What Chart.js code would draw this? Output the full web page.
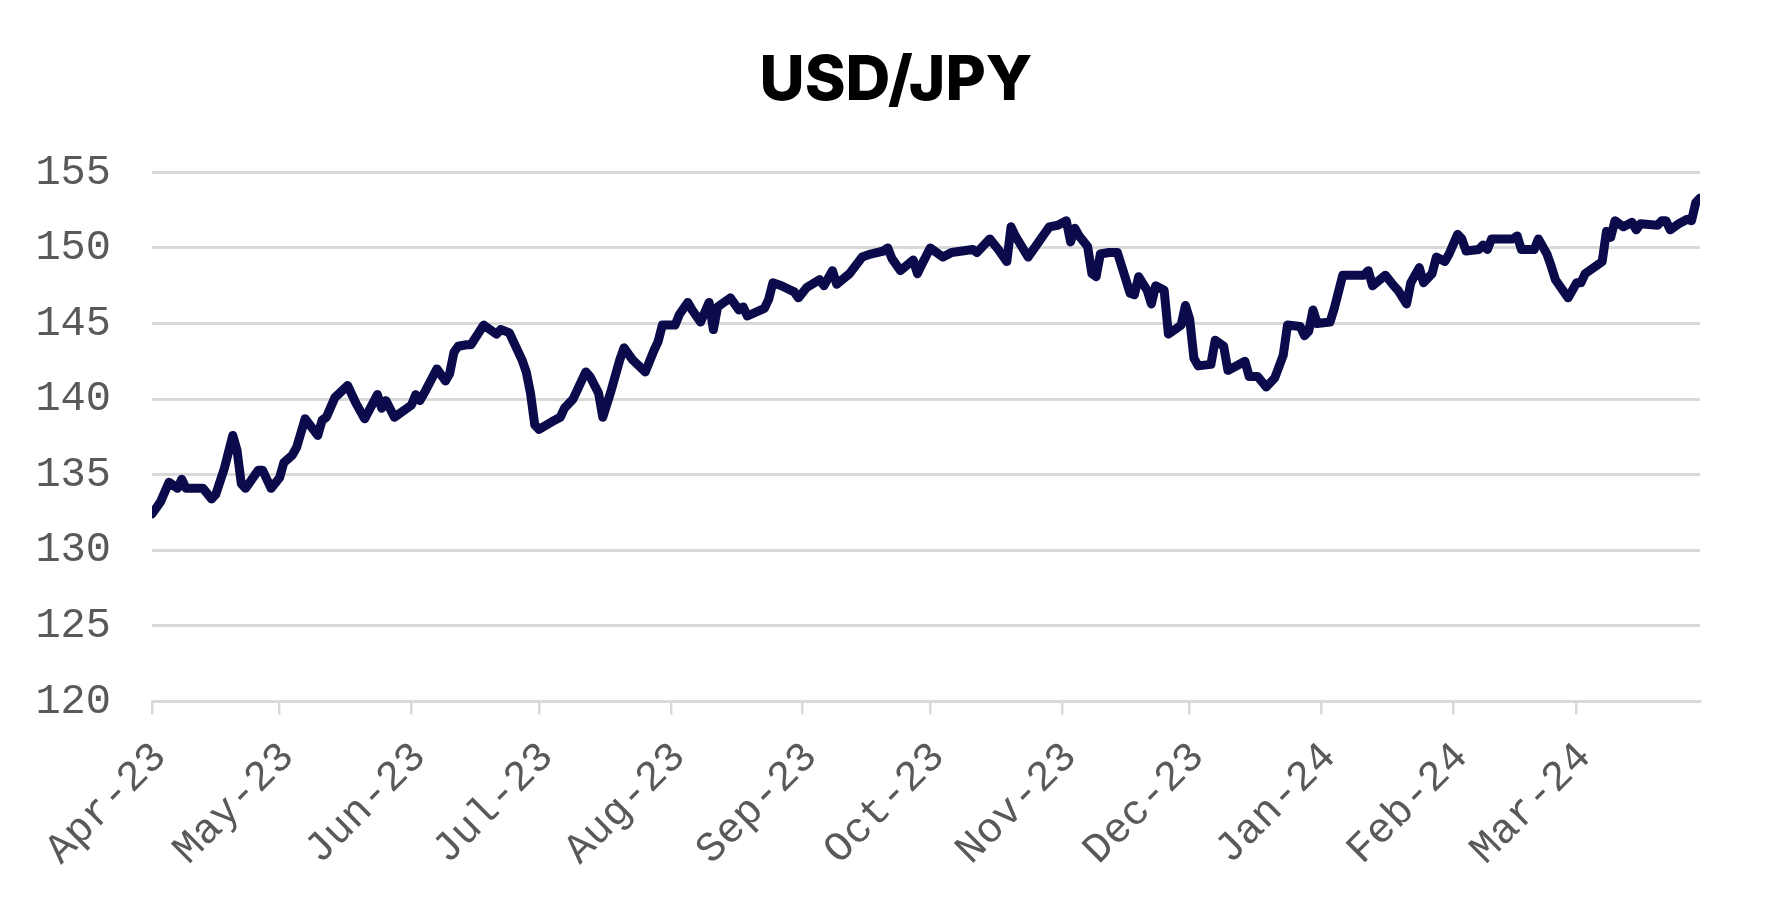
<!DOCTYPE html>
<html>
<head>
<meta charset="utf-8">
<script src="https://cdn.jsdelivr.net/npm/chart.js@4.4.1/dist/chart.umd.min.js"></script>
<style>
  html, body { margin: 0; padding: 0; background: #ffffff; }
  #wrap { width: 1792px; height: 907px; }
</style>
</head>
<body>
<div id="wrap"><canvas id="c" width="1792" height="907"></canvas></div>
<script>
const chartTitle = 'USD/JPY';
const startDate = '2023-04-01';
const endDate = '2024-03-30';

const dates = [
  '2023-04-01','2023-04-03','2023-04-05','2023-04-07','2023-04-08','2023-04-09','2023-04-11','2023-04-13','2023-04-15','2023-04-16',
  '2023-04-18','2023-04-20','2023-04-21','2023-04-22','2023-04-23','2023-04-26','2023-04-27','2023-04-29','2023-05-01','2023-05-02',
  '2023-05-04','2023-05-05','2023-05-07','2023-05-10','2023-05-11','2023-05-12','2023-05-14','2023-05-17','2023-05-19','2023-05-21',
  '2023-05-24','2023-05-25','2023-05-26','2023-05-28','2023-05-31','2023-06-01','2023-06-02','2023-06-03','2023-06-04','2023-06-07',
  '2023-06-09','2023-06-10','2023-06-11','2023-06-12','2023-06-14','2023-06-15','2023-06-18','2023-06-21','2023-06-22','2023-06-24',
  '2023-06-27','2023-06-28','2023-06-29','2023-06-30','2023-07-01','2023-07-04','2023-07-06','2023-07-07','2023-07-09','2023-07-12',
  '2023-07-13','2023-07-15','2023-07-16','2023-07-18','2023-07-20','2023-07-21','2023-07-23','2023-07-26','2023-07-28','2023-07-29',
  '2023-07-30','2023-08-02','2023-08-03','2023-08-05','2023-08-06','2023-08-08','2023-08-10','2023-08-11','2023-08-12','2023-08-15',
  '2023-08-17','2023-08-18','2023-08-19','2023-08-23','2023-08-24','2023-08-25','2023-08-27','2023-08-30','2023-08-31','2023-09-02',
  '2023-09-05','2023-09-06','2023-09-08','2023-09-09','2023-09-12','2023-09-15','2023-09-17','2023-09-20','2023-09-21','2023-09-22',
  '2023-09-24','2023-09-27','2023-09-28','2023-09-29','2023-10-01','2023-10-04','2023-10-06','2023-10-11','2023-10-12','2023-10-15',
  '2023-10-17','2023-10-19','2023-10-20','2023-10-21','2023-10-24','2023-10-27','2023-10-29','2023-10-31','2023-11-02','2023-11-03',
  '2023-11-04','2023-11-05','2023-11-07','2023-11-08','2023-11-09','2023-11-10','2023-11-12','2023-11-14','2023-11-16','2023-11-17',
  '2023-11-18','2023-11-19','2023-11-21','2023-11-22','2023-11-23','2023-11-25','2023-11-26','2023-11-29','2023-11-30','2023-12-01',
  '2023-12-02','2023-12-03','2023-12-06','2023-12-07','2023-12-09','2023-12-10','2023-12-14','2023-12-15','2023-12-17','2023-12-19',
  '2023-12-21','2023-12-23','2023-12-24','2023-12-27','2023-12-28','2023-12-29','2023-12-30','2023-12-31','2024-01-03','2024-01-04',
  '2024-01-06','2024-01-11','2024-01-12','2024-01-13','2024-01-16','2024-01-18','2024-01-19','2024-01-21','2024-01-22','2024-01-24',
  '2024-01-25','2024-01-27','2024-01-28','2024-01-30','2024-01-31','2024-02-02','2024-02-03','2024-02-04','2024-02-07','2024-02-08',
  '2024-02-09','2024-02-10','2024-02-15','2024-02-16','2024-02-17','2024-02-20','2024-02-21','2024-02-23','2024-02-24','2024-02-25',
  '2024-02-28','2024-03-01','2024-03-02','2024-03-03','2024-03-07','2024-03-08','2024-03-09','2024-03-10','2024-03-12','2024-03-14',
  '2024-03-15','2024-03-16','2024-03-20','2024-03-21','2024-03-22','2024-03-23','2024-03-25','2024-03-27','2024-03-28','2024-03-29',
  '2024-03-30'
];

const usdJpy = [
  132.4,133.2,134.5,134.1,134.7,134.1,134.1,134.1,133.4,133.7,
  135.4,137.6,136.6,134.4,134.1,135.3,135.3,134.1,134.8,135.8,
  136.3,136.8,138.7,137.6,138.6,138.8,140.1,140.9,139.7,138.7,
  140.3,139.4,139.9,138.8,139.4,139.6,140.3,139.9,140.4,142.0,
  141.2,141.7,143.1,143.5,143.6,143.6,144.9,144.3,144.6,144.4,
  142.6,141.8,140.4,138.3,138.0,138.5,138.8,139.4,140.0,141.8,
  141.5,140.4,138.8,140.6,142.6,143.4,142.6,141.8,143.2,143.8,
  144.9,144.9,145.6,146.4,145.9,145.1,146.4,144.6,146.1,146.7,
  145.9,146.1,145.5,146.0,146.6,147.7,147.5,147.1,146.7,147.4,
  147.9,147.5,148.5,147.6,148.3,149.4,149.6,149.8,150.0,149.3,
  148.5,149.2,148.3,148.9,150.0,149.4,149.7,149.9,149.7,150.6,
  149.9,149.1,151.4,150.8,149.4,150.6,151.4,151.5,151.8,150.4,
  151.3,150.8,150.1,148.3,148.1,149.6,149.7,149.7,147.9,147.0,
  146.9,148.1,147.2,146.3,147.5,147.2,144.3,144.9,146.2,145.3,
  142.7,142.2,142.3,143.9,143.5,141.9,142.5,141.5,141.5,140.8,
  141.4,142.9,144.9,144.8,144.2,144.5,145.9,145.0,145.1,146.0,
  148.2,148.2,148.5,147.5,148.2,147.5,147.2,146.3,147.7,148.7,
  147.7,148.3,149.4,149.1,149.6,150.9,150.6,149.8,149.9,150.2,
  149.9,150.6,150.6,150.8,149.9,149.9,150.6,149.6,148.8,147.9,
  146.7,147.7,147.7,148.3,149.1,151.1,150.7,151.8,151.4,151.7,
  151.2,151.6,151.5,151.8,151.8,151.2,151.6,151.9,151.8,153.0,
  153.3
];

const tickDates = ['2023-04-01','2023-05-01','2023-06-01','2023-07-01','2023-08-01','2023-09-01',
                   '2023-10-01','2023-11-01','2023-12-01','2024-01-01','2024-02-01','2024-03-01'];
const tickLabels = ['Apr-23','May-23','Jun-23','Jul-23','Aug-23','Sep-23',
                    'Oct-23','Nov-23','Dec-23','Jan-24','Feb-24','Mar-24'];

const yMin = 120, yMax = 155, yStep = 5;

const DAY = 86400000;
const t0 = Date.parse(startDate + 'T00:00:00Z');
const toDay = s => Math.round((Date.parse(s + 'T00:00:00Z') - t0) / DAY);

const points = dates.map((d, i) => ({ x: toDay(d), y: usdJpy[i] }));
const tickPos = tickDates.map(toDay);

const gridGrey = '#d9d9d9';
const labelGrey = '#595959';

// Center the title on the full canvas width
const centerTitle = {
  id: 'centerTitle',
  afterLayout(chart) {
    if (chart.titleBlock) {
      chart.titleBlock.left = 0;
      chart.titleBlock.right = chart.width;
      chart.titleBlock.width = chart.width;
    }
  }
};

new Chart(document.getElementById('c'), {
  type: 'line',
  data: {
    datasets: [{
      label: chartTitle,
      data: points,
      borderColor: '#0b0b4b',
      borderWidth: 9,
      pointRadius: 0,
      tension: 0,
      borderJoinStyle: 'round',
      borderCapStyle: 'round',
      fill: false
    }]
  },
  plugins: [centerTitle],
  options: {
    responsive: false,
    animation: false,
    layout: { padding: { left: 38, right: 92, top: 44, bottom: 14 } },
    plugins: {
      legend: { display: false },
      tooltip: { enabled: false },
      title: {
        display: true,
        text: chartTitle,
        color: '#000000',
        font: { family: 'Inter', size: 62, weight: '800' },
        padding: { top: 0, bottom: 54 }
      }
    },
    scales: {
      x: {
        type: 'linear',
        min: 0,
        max: toDay(endDate),
        afterBuildTicks: axis => { axis.ticks = tickPos.map(v => ({ value: v })); },
        afterFit: scale => { scale.paddingLeft = 0; scale.paddingRight = 0; },
        grid: {
          display: true,
          drawOnChartArea: false,
          drawTicks: true,
          tickLength: 13,
          color: gridGrey,
          lineWidth: 2.5
        },
        border: { display: true, color: gridGrey, width: 3 },
        ticks: {
          autoSkip: false,
          maxRotation: 45,
          minRotation: 45,
          padding: 18,
          labelOffset: 8,
          color: labelGrey,
          font: { family: 'Liberation Mono', size: 42 },
          callback: function (value) {
            const i = tickPos.indexOf(value);
            return i >= 0 ? tickLabels[i] : '';
          }
        }
      },
      y: {
        min: yMin,
        max: yMax,
        afterFit: scale => { scale.width = 114; },
        grid: { color: gridGrey, lineWidth: 3, drawTicks: false },
        border: { display: false },
        ticks: {
          stepSize: yStep,
          padding: 41,
          color: labelGrey,
          font: { family: 'Liberation Mono', size: 42 }
        }
      }
    }
  }
});
</script>
</body>
</html>
